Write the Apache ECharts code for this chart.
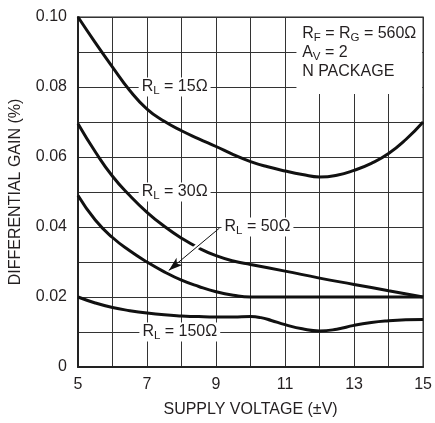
<!DOCTYPE html>
<html>
<head>
<meta charset="utf-8">
<script src="https://cdn.jsdelivr.net/npm/echarts@6/dist/echarts.min.js"></script>
<style>
html,body{margin:0;padding:0;background:#fff;}
#c{width:435px;height:423px;}
</style>
</head>
<body>
<div id="c"></div>
<script>
// ---- data ----
const xTickLabels = ['5','7','9','11','13','15'];
const yTickLabels = ['0','0.02','0.04','0.06','0.08','0.10'];

const v15 = [5,5.5,6,6.5,7,7.5,8,8.5,9,9.5,10,10.5,11,11.5,12,12.5,13,13.5,14,14.5,15];
const g15 = [0.100,0.0927,0.0857,0.0790,0.0737,0.0702,0.0675,0.0652,0.0630,0.0607,0.0587,0.0572,0.0560,0.0550,0.0543,0.0548,0.0562,0.0582,0.0610,0.0650,0.0700];

const v30 = [5,5.5,6,6.5,7,7.5,8,8.5,9,9.5,10,11,12,13,14,15];
const g30 = [0.0695,0.0615,0.0545,0.0490,0.0442,0.0402,0.0368,0.0340,0.0318,0.0303,0.0293,0.0274,0.0254,0.0236,0.0218,0.0200];

const v50 = [5,5.5,6,6.5,7,7.5,8,8.5,9,9.5,10,11,12,13,14,15];
const g50 = [0.0490,0.0420,0.0370,0.0332,0.0300,0.0272,0.0248,0.0230,0.0215,0.0205,0.0200,0.0200,0.0200,0.0200,0.0200,0.0200];

const v150 = [5,5.5,6,6.5,7,7.5,8,8.5,9,9.5,10,10.3,10.6,11,11.5,12,12.5,13,13.5,14,14.5,15];
const g150 = [0.0200,0.0183,0.0170,0.0161,0.0154,0.0149,0.0146,0.0144,0.0143,0.0143,0.0144,0.0141,0.0133,0.0121,0.0109,0.0103,0.0108,0.0119,0.0127,0.0132,0.0135,0.0136];

const curveNames = ['RL15','RL30','RL50','RL150'];
const labelTexts = ['15Ω','30Ω','50Ω','150Ω'];
const labelAt = [[7.8,0.080],[7.8,0.050],[10.2,0.040],[7.95,0.010]];
const arrowFrom = [9.1,0.0397], arrowTo = [7.63,0.0276];
const arrowGapFrom = [8.62,0.0358], arrowGapTo = [8.15,0.0319];
const boxFrom = [11.33,0.078], boxTo = [14.97,0.0997];
const boxAt = [11.48,0.0897];

const FONT = '"Liberation Sans",Arial,sans-serif';
const TXT = '#231f20';
const rich = {
  n:{fontFamily:FONT,fontSize:16,color:TXT,lineHeight:19},
  s:{fontFamily:FONT,fontSize:11.5,color:TXT,padding:[8,0,0,0],lineHeight:19}
};
function pairs(xs,ys){return xs.map((x,i)=>[x,ys[i]]);}

const curves = [[v15,g15],[v30,g30],[v50,g50],[v150,g150]];
const series = curves.map((c,i)=>({
  name: curveNames[i], type:'line', data: pairs(c[0],c[1]),
  smooth:0.5, symbol:'none', silent:true,
  lineStyle:{color:'#111',width:3},
  markPoint:{symbol:'circle',symbolSize:1,itemStyle:{color:'rgba(0,0,0,0)'},silent:true,
    data:[{coord:labelAt[i]}],
    label:{show:true,position:'inside',formatter:'{n|R}{s|L}{n| = '+labelTexts[i]+'}',
      backgroundColor:'#fff',padding:[0,3,0,3],rich:rich}}
}));
// white gap under arrow
series.push({type:'line',data:[],silent:true,
  markLine:{silent:true,symbol:['none','none'],animation:false,
    lineStyle:{color:'#fff',width:5,type:'solid'},label:{show:false},
    data:[[{coord:arrowGapFrom},{coord:arrowGapTo}]]}});
// arrow
series.push({type:'line',data:[],silent:true,
  markLine:{silent:true,symbol:['none','arrow'],symbolSize:[7,14],animation:false,
    lineStyle:{color:'#111',width:1,type:'solid'},itemStyle:{color:'#111'},label:{show:false},
    data:[[{coord:arrowFrom},{coord:arrowTo}]]}});
// condition box
series.push({type:'line',data:[],silent:true,
  markArea:{silent:true,itemStyle:{color:'#fff'},data:[[{coord:boxFrom},{coord:boxTo}]]},
  markPoint:{symbol:'circle',symbolSize:1,itemStyle:{color:'rgba(0,0,0,0)'},silent:true,
    data:[{coord:boxAt}],
    label:{show:true,position:'right',distance:0,
      formatter:'{n|R}{s|F}{n| = R}{s|G}{n| = 560Ω}\n{n|A}{s|V}{n| = 2}\n{n|N PACKAGE}',rich:rich}}
});

const chart = echarts.init(document.getElementById('c'));
chart.setOption({
  animation:false,
  grid:{left:72,right:11,top:17,bottom:54,show:true,borderColor:'#222',borderWidth:1.2},
  xAxis:{type:'value',min:5,max:15,interval:1,
    name:'SUPPLY VOLTAGE (±V)',nameLocation:'middle',nameGap:35,
    nameTextStyle:{fontFamily:FONT,fontSize:16,color:TXT},
    axisLine:{show:true,lineStyle:{color:'#222',width:2}},axisTick:{show:false},
    splitLine:{show:true,lineStyle:{color:'#333',width:1}},
    axisLabel:{fontFamily:FONT,fontSize:16,color:TXT,margin:10,
      formatter:v=>{const k=Math.round(v)-5;return k%2===0?xTickLabels[k/2]:'';}}},
  yAxis:{type:'value',min:0,max:0.10,interval:0.01,
    name:'DIFFERENTIAL GAIN (%)',nameLocation:'middle',nameGap:54,nameRotate:90,
    nameTextStyle:{fontFamily:FONT,fontSize:16,color:TXT},
    axisLine:{show:true,lineStyle:{color:'#222',width:2}},axisTick:{show:false},
    splitLine:{show:true,lineStyle:{color:'#333',width:1}},
    axisLabel:{fontFamily:FONT,fontSize:16,color:TXT,margin:11,
      formatter:v=>{const k=Math.round(v*100);return k%2===0?yTickLabels[k/2]:'';}}},
  series:series
});
</script>
</body>
</html>
